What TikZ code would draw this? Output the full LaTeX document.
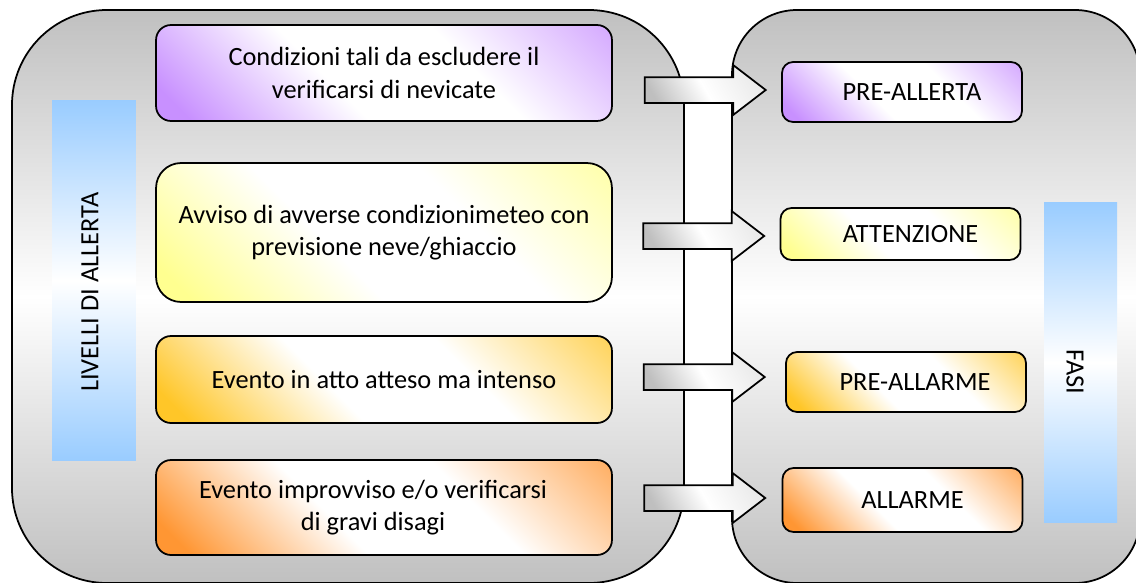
\documentclass[tikz,border=0pt]{standalone}
\usepackage{fontspec}
\setmainfont{Carlito}
\usepackage{tikz}
\usetikzlibrary{shapes,shapes.arrows,positioning,calc}
\definecolor{viola}{HTML}{C890FF}
\definecolor{giallo}{HTML}{FFFF90}
\definecolor{oro}{HTML}{FFC628}
\definecolor{arancio}{HTML}{FF9633}
\definecolor{azzurro}{HTML}{99CCFF}
\definecolor{grigio}{HTML}{C0C0C0}
\newcommand{\ombra}[2]{\pgfdeclarehorizontalshading{#1}{100bp}{color(0bp)=(#2); color(19bp)=(#2); color(42bp)=(white);
	color(62bp)=(white); color(86bp)=(#2!80); color(100bp)=(#2!80)}}
\ombra{ombraviola}{viola}
\ombra{ombragiallo}{giallo}
\ombra{ombraoro}{oro}
\ombra{ombraarancio}{arancio}
\tikzset{pannello/.style={draw=black,line width=1pt,top color=grigio,bottom color=grigio,middle color=white}}
\tikzset{livello/.style={draw=black,line width=1pt,rounded corners=0.3cm,minimum width=9.12cm,align=center,inner sep=0pt,
	shading=ombra#1,shading angle=45}}
\tikzset{fase/.style={draw=black,line width=1pt,rounded corners=0.22cm,minimum width=4.8cm,inner sep=0pt,
	shading=ombra#1,shading angle=45}}
\tikzset{barra/.style={top color=azzurro,bottom color=azzurro,middle color=white}}
\tikzset{freccia/.style={draw=black,line width=1pt,single arrow,single arrow head extend=0.24cm,single arrow tip angle=75,
	minimum height=2.42cm,inner xsep=0pt,inner ysep=0.24cm,anchor=tip,
	left color=black!25,right color=black!8,middle color=white,shading angle=120}}

\begin{document}
\begin{tikzpicture}[x=0.02cm,y=-0.02cm,font=\fontsize{15}{18.3}\selectfont]
	\useasboundingbox (0,0) rectangle (1136,582);
	% pannelli
	\draw[pannello,rounded corners=1.9cm] (12,10) rectangle (684,583);
	\draw[pannello,rounded corners=1.3cm] (732,10) rectangle (1140,583);
	% barre laterali
	\node[barra,minimum width=1.68cm,minimum height=7.22cm] (bLiv) at (94,280.5) {};
	\node[rotate=90] (tLiv) at (90,292) {LIVELLI DI ALLERTA};
	\node[barra,minimum width=1.46cm,minimum height=6.42cm] (bFasi) at (1080.5,362.5) {};
	\node[rotate=-90] (tFasi) at (1075,372) {FASI};
	% livelli
	\node[livello=viola,minimum height=1.92cm] (l1) at (384,73) {Condizioni tali da escludere il\\verificarsi di nevicate};
	\node[livello=giallo,minimum height=2.78cm,rounded corners=0.5cm] (l2) at (384,232.5) {Avviso di avverse condizionimeteo con\\previsione neve/ghiaccio};
	\node[livello=oro,minimum height=1.74cm] (l3) at (384,379.5) {Evento in atto atteso ma intenso};
	\node[livello=arancio,minimum height=1.9cm] (l4) at (384,507.5) {Evento improvviso e/o verificarsi\hspace*{0.44cm}\\di gravi disagi\hspace*{0.44cm}};
	% fasi
	\node[fase=viola,minimum height=1.2cm] (f1) at (902,92) {\hspace*{0.4cm}PRE-ALLERTA};
	\node[fase=giallo,minimum height=1.04cm] (f2) at (900.5,234) {\hspace*{0.4cm}ATTENZIONE};
	\node[fase=oro,minimum height=1.2cm] (f3) at (906,382) {\hspace*{0.36cm}PRE-ALLARME};
	\node[fase=arancio,minimum height=1.28cm] (f4) at (902.5,500) {\hspace*{0.4cm}ALLARME};
	% frecce
	\node[freccia] (a1) at ([xshift=-0.28cm,yshift=0.04cm]f1.west) {};
	\node[freccia] (a2) at ([xshift=-0.28cm,yshift=-0.04cm]f2.west) {};
	\node[freccia] (a3) at ([xshift=-0.38cm,yshift=0.1cm]f3.west) {};
	\node[freccia] (a4) at ([xshift=-0.3cm,yshift=0.04cm]f4.west) {};
\end{tikzpicture}
\end{document}
